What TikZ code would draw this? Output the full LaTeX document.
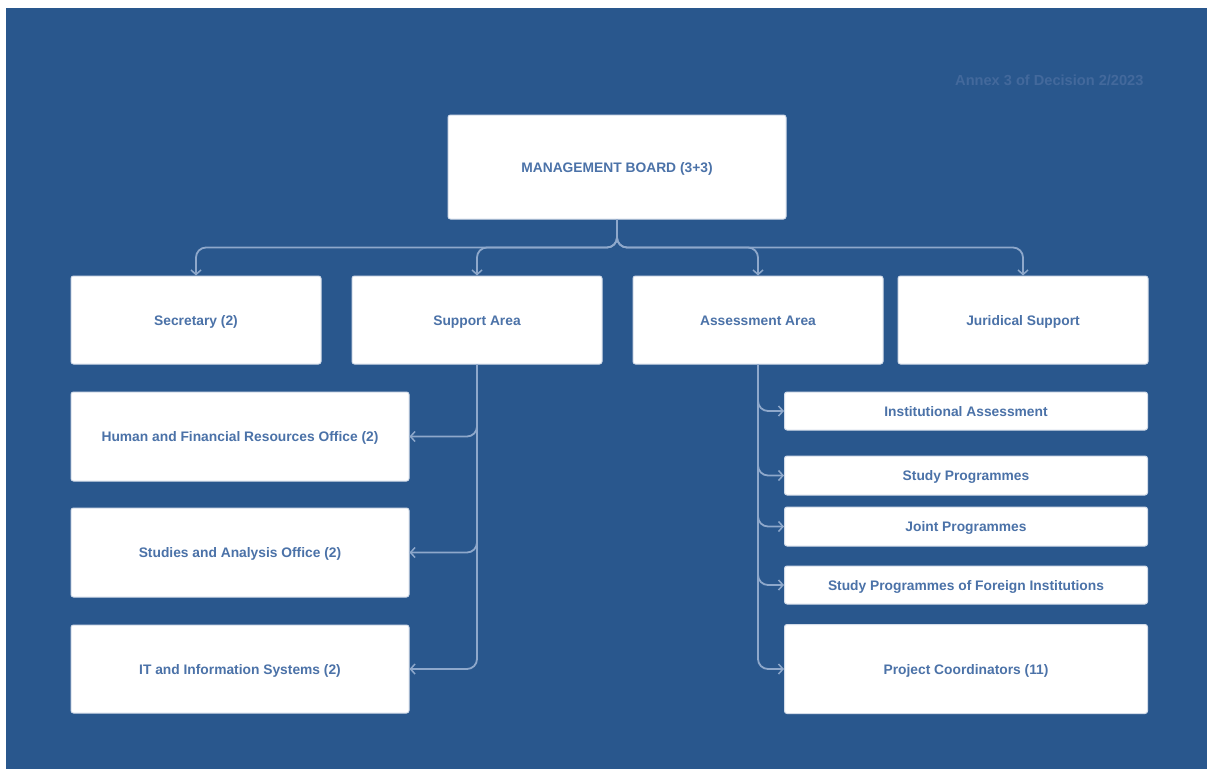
\documentclass[tikz,border=0pt]{standalone}
\usepackage{fontspec}
\setmainfont{Liberation Sans}
\usetikzlibrary{arrows.meta}
\definecolor{bgblue}{HTML}{29578D}
\definecolor{boxtext}{HTML}{4B72A8}
\definecolor{linec}{HTML}{8EA8CB}
\definecolor{boxedge}{HTML}{D3DCE9}
\definecolor{annexc}{HTML}{43699C}
\tikzset{
  box/.style={draw=boxedge, line width=1pt, fill=white, rounded corners=2.5pt, inner sep=0pt,
    font=\fontsize{13.8}{16}\selectfont\bfseries, text=boxtext, align=center,
    text height=11.5pt, text depth=1.5pt},
  conn/.style={draw=linec, line width=1.8pt, rounded corners=10pt,
    -{Straight Barb[length=4.5pt,width=10pt,line width=1.5pt]}}
}
\begin{document}
\begin{tikzpicture}[x=1pt,y=-1pt]
\useasboundingbox (0,0) rectangle (1207,769);
\fill[white] (0,0) rectangle (1207,769);
\fill[bgblue] (6,8) rectangle (1207,769);
\node[anchor=east, text=annexc, font=\fontsize{14.6}{17}\selectfont\bfseries] (annex) at (1147,80) {Annex 3 of Decision 2/2023};
% top
\node[box, minimum width=338, minimum height=104] (mb) at (617,167) {MANAGEMENT BOARD (3+3)};
% row 2
\node[box, minimum width=250, minimum height=88] (sec) at (196,320) {Secretary (2)};
\node[box, minimum width=250, minimum height=88] (sup) at (477,320) {Support Area};
\node[box, minimum width=250, minimum height=88] (ass) at (758,320) {Assessment Area};
\node[box, minimum width=250, minimum height=88] (jur) at (1023,320) {Juridical Support};
% left column
\node[box, minimum width=338, minimum height=89] (hfro) at (240,436.5) {Human and Financial Resources Office (2)};
\node[box, minimum width=338, minimum height=89] (sao) at (240,552.5) {Studies and Analysis Office (2)};
\node[box, minimum width=338, minimum height=88] (it) at (240,669) {IT and Information Systems (2)};
% right column
\node[box, minimum width=363, minimum height=38] (ia) at (966,411) {Institutional Assessment};
\node[box, minimum width=363, minimum height=39] (sp) at (966,475.5) {Study Programmes};
\node[box, minimum width=363, minimum height=39] (jp) at (966,526.5) {Joint Programmes};
\node[box, minimum width=363, minimum height=38] (sf) at (966,585) {Study Programmes of Foreign Institutions};
\node[box, minimum width=363, minimum height=89] (pc) at (966,669) {Project Coordinators (11)};
% connectors from board
\draw[conn] (mb.south) -- ++(0,28) -| (sec.north);
\draw[conn] (mb.south) -- ++(0,28) -| (sup.north);
\draw[conn] (mb.south) -- ++(0,28) -| (ass.north);
\draw[conn] (mb.south) -- ++(0,28) -| (jur.north);
% support area
\draw[conn] (sup.south) |- (hfro.east);
\draw[conn] (sup.south) |- (sao.east);
\draw[conn] (sup.south) |- (it.east);
% assessment area
\draw[conn] (ass.south) |- (ia.west);
\draw[conn] (ass.south) |- (sp.west);
\draw[conn] (ass.south) |- (jp.west);
\draw[conn] (ass.south) |- (sf.west);
\draw[conn] (ass.south) |- (pc.west);
\end{tikzpicture}
\end{document}
